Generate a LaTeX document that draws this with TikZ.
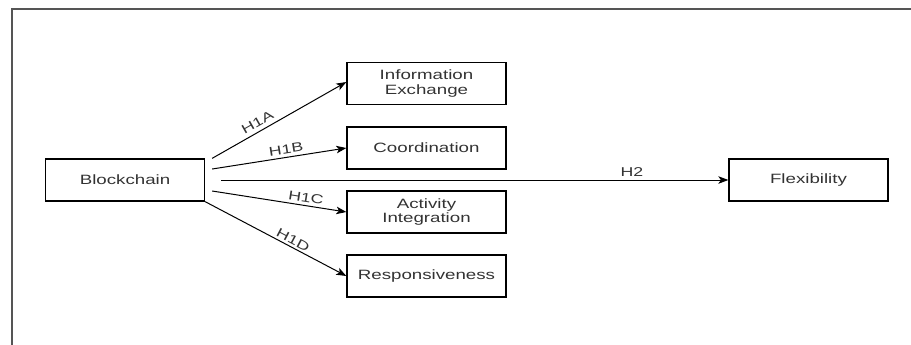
\documentclass[tikz,border=0pt]{standalone}
\usepackage{fontspec}
\setmainfont{Liberation Sans}[FakeStretch=1.385]
\usetikzlibrary{arrows.meta}
\definecolor{txt}{HTML}{333333}
\definecolor{framec}{HTML}{555555}
\tikzset{
  box/.style={draw=black, line width=1.3bp, minimum width=159bp, minimum height=42bp,
    inner sep=0pt, align=center, text=txt, font=\fontsize{13.5bp}{14.6bp}\selectfont},
  conn/.style={draw=black, line width=1bp, -{Stealth[length=10bp,width=7.5bp,inset=2.5bp]}},
  lbl/.style={text=txt, inner sep=2bp, font=\fontsize{12.8bp}{14bp}\selectfont},
  frameline/.style={draw=framec, line width=2bp}
}
\begin{document}
\begin{tikzpicture}[x=1bp, y=-1bp]
\useasboundingbox (0,0) rectangle (911,344);
\fill[white] (0,0) rectangle (911,344);
\draw[frameline] (12,350) -- (12,9) -- (920,9);

\node[box] (blk) at (125,180) {Blockchain};
\node[box] (ie) at (426.5,83.5) {Information\\Exchange};
\node[box] (co) at (426.5,148) {Coordination};
\node[box] (ai) at (426.5,212) {Activity\\Integration};
\node[box] (re) at (426.5,276) {Responsiveness};
\node[box] (fl) at (808.5,180) {Flexibility};

\draw[conn] ([shift={(7,0)}]blk.north east) -- ([yshift=1.5bp]ie.west)
  node[lbl, pos=0.37, sloped, above=2bp] {H1A};
\draw[conn] ([shift={(7,-11)}]blk.east) -- (co.west)
  node[lbl, pos=0.56, sloped, above=1bp] {H1B};
\draw[conn] ([xshift=16bp]blk.east) -- (fl.west)
  node[lbl, pos=0.81, above=1bp] {H2};
\draw[conn] ([shift={(7,11)}]blk.east) -- (ai.west)
  node[lbl, pos=0.69, sloped, above=1bp] {H1C};
\draw[conn] (blk.south east) -- (re.west)
  node[lbl, pos=0.6, sloped, above=0bp] {H1D};
\end{tikzpicture}
\end{document}
